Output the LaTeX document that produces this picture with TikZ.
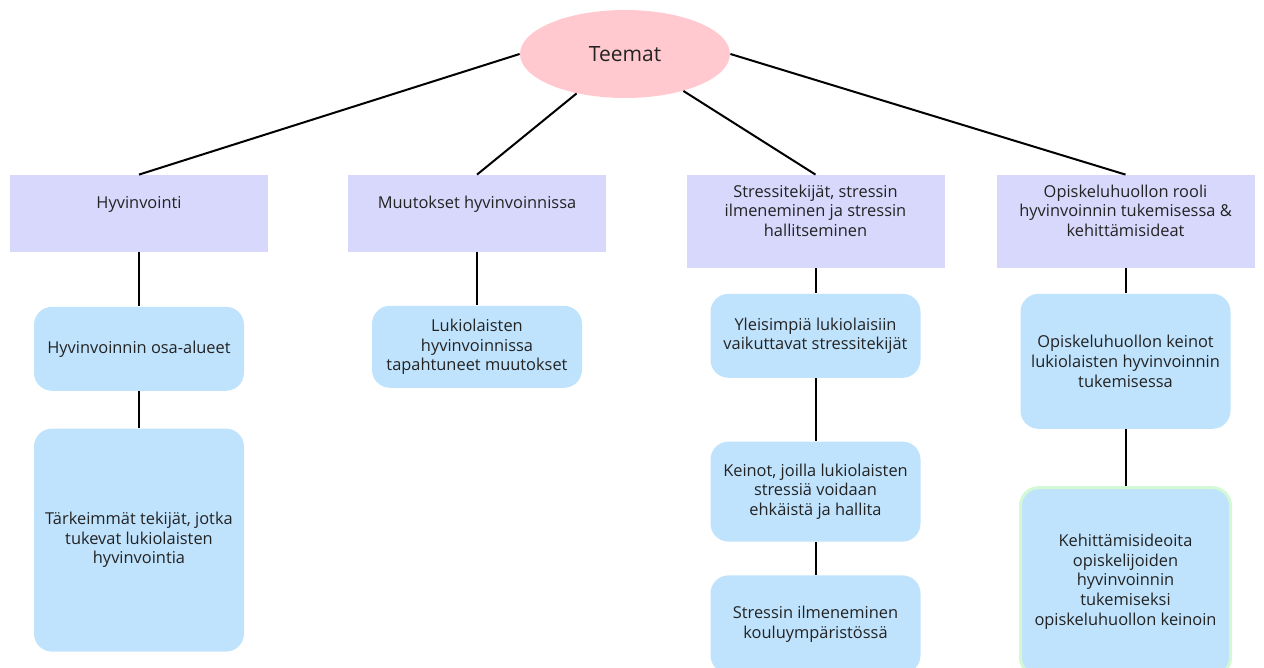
\documentclass[tikz,border=0pt]{standalone}
\usepackage{fontspec}
\setmainfont{Open Sans}
\usepackage{tikz}
\usetikzlibrary{positioning,shapes.geometric}
\definecolor{tpink}{HTML}{FFC9CF}
\definecolor{tlav}{HTML}{D8D8FD}
\definecolor{tblue}{HTML}{C0E3FD}
\definecolor{tgreen}{HTML}{D3F8D5}
\definecolor{tink}{HTML}{232323}

\begin{document}
\begin{tikzpicture}[x=0.5pt, y=-0.5pt, text=tink,
  font=\fontsize{8.2}{9.8}\selectfont,
  theme/.style={ellipse, fill=tpink, minimum width=105pt, minimum height=44pt,
                font=\fontsize{10.5}{12}\selectfont},
  topic/.style={fill=tlav, align=center, minimum width=129pt,
                minimum height=38.5pt, inner sep=2pt, text depth=11pt},
  sub/.style={fill=tblue, rounded corners=9pt, align=center,
              minimum width=105pt, inner sep=2pt},
  link/.style={line width=1pt, draw=black}]
  \clip (0,0) rectangle (1264,668);
  \node[theme] (root) at (625,54) {Teemat};
  \node[topic] (hyv) at (139,213.5) {Hyvinvointi};
  \node[topic] (muu) at (477,213.5) {Muutokset hyvinvoinnissa};
  \node[topic, minimum height=46.5pt] (str) at (815.5,221.5)
    {Stressitekijät, stressin\\ilmeneminen ja stressin\\hallitseminen};
  \node[topic, minimum height=46.5pt] (opi) at (1125.5,221.5)
    {Opiskeluhuollon rooli\\hyvinvoinnin tukemisessa \&\\kehittämisideat};
  % second level
  \node[sub, minimum height=42pt, below=27pt of hyv] (osa) {Hyvinvoinnin osa-alueet};
  \node[sub, minimum height=111.5pt, below=18.5pt of osa] (tar)
    {Tärkeimmät tekijät, jotka\\tukevat lukiolaisten\\hyvinvointia};
  \node[sub, minimum height=41pt, below=26.5pt of muu] (luk)
    {Lukiolaisten\\hyvinvoinnissa\\tapahtuneet muutokset};
  \node[sub, minimum height=42pt, below=12.5pt of str] (yle)
    {Yleisimpiä lukiolaisiin\\vaikuttavat stressitekijät};
  \node[sub, minimum height=50pt, below=31.5pt of yle] (kei)
    {Keinot, joilla lukiolaisten\\stressiä voidaan\\ehkäistä ja hallita};
  \node[sub, minimum height=49pt, below=16.5pt of kei] (ilm)
    {Stressin ilmeneminen\\kouluympäristössä};
  \node[sub, minimum height=67.5pt, below=12.5pt of opi] (ope)
    {Opiskeluhuollon keinot\\lukiolaisten hyvinvoinnin\\tukemisessa};
  \node[sub, draw=tgreen, line width=1.5pt, minimum height=94pt,
        below=28.5pt of ope] (keh)
    {Kehittämisideoita\\opiskelijoiden\\hyvinvoinnin\\tukemiseksi\\opiskeluhuollon keinoin};
  % connectors
  \draw[link] (root.west) -- (hyv.north);
  \draw[link] (root) -- (muu.north);
  \draw[link] (root) -- (str.north);
  \draw[link] (root.east) -- (opi.north);
  \draw[link] (hyv) -- (osa);
  \draw[link] (osa) -- (tar);
  \draw[link] (muu) -- (luk);
  \draw[link] (str) -- (yle);
  \draw[link] (yle) -- (kei);
  \draw[link] (kei) -- (ilm);
  \draw[link] (opi) -- (ope);
  \draw[link] (ope) -- (keh);
\end{tikzpicture}
\end{document}
